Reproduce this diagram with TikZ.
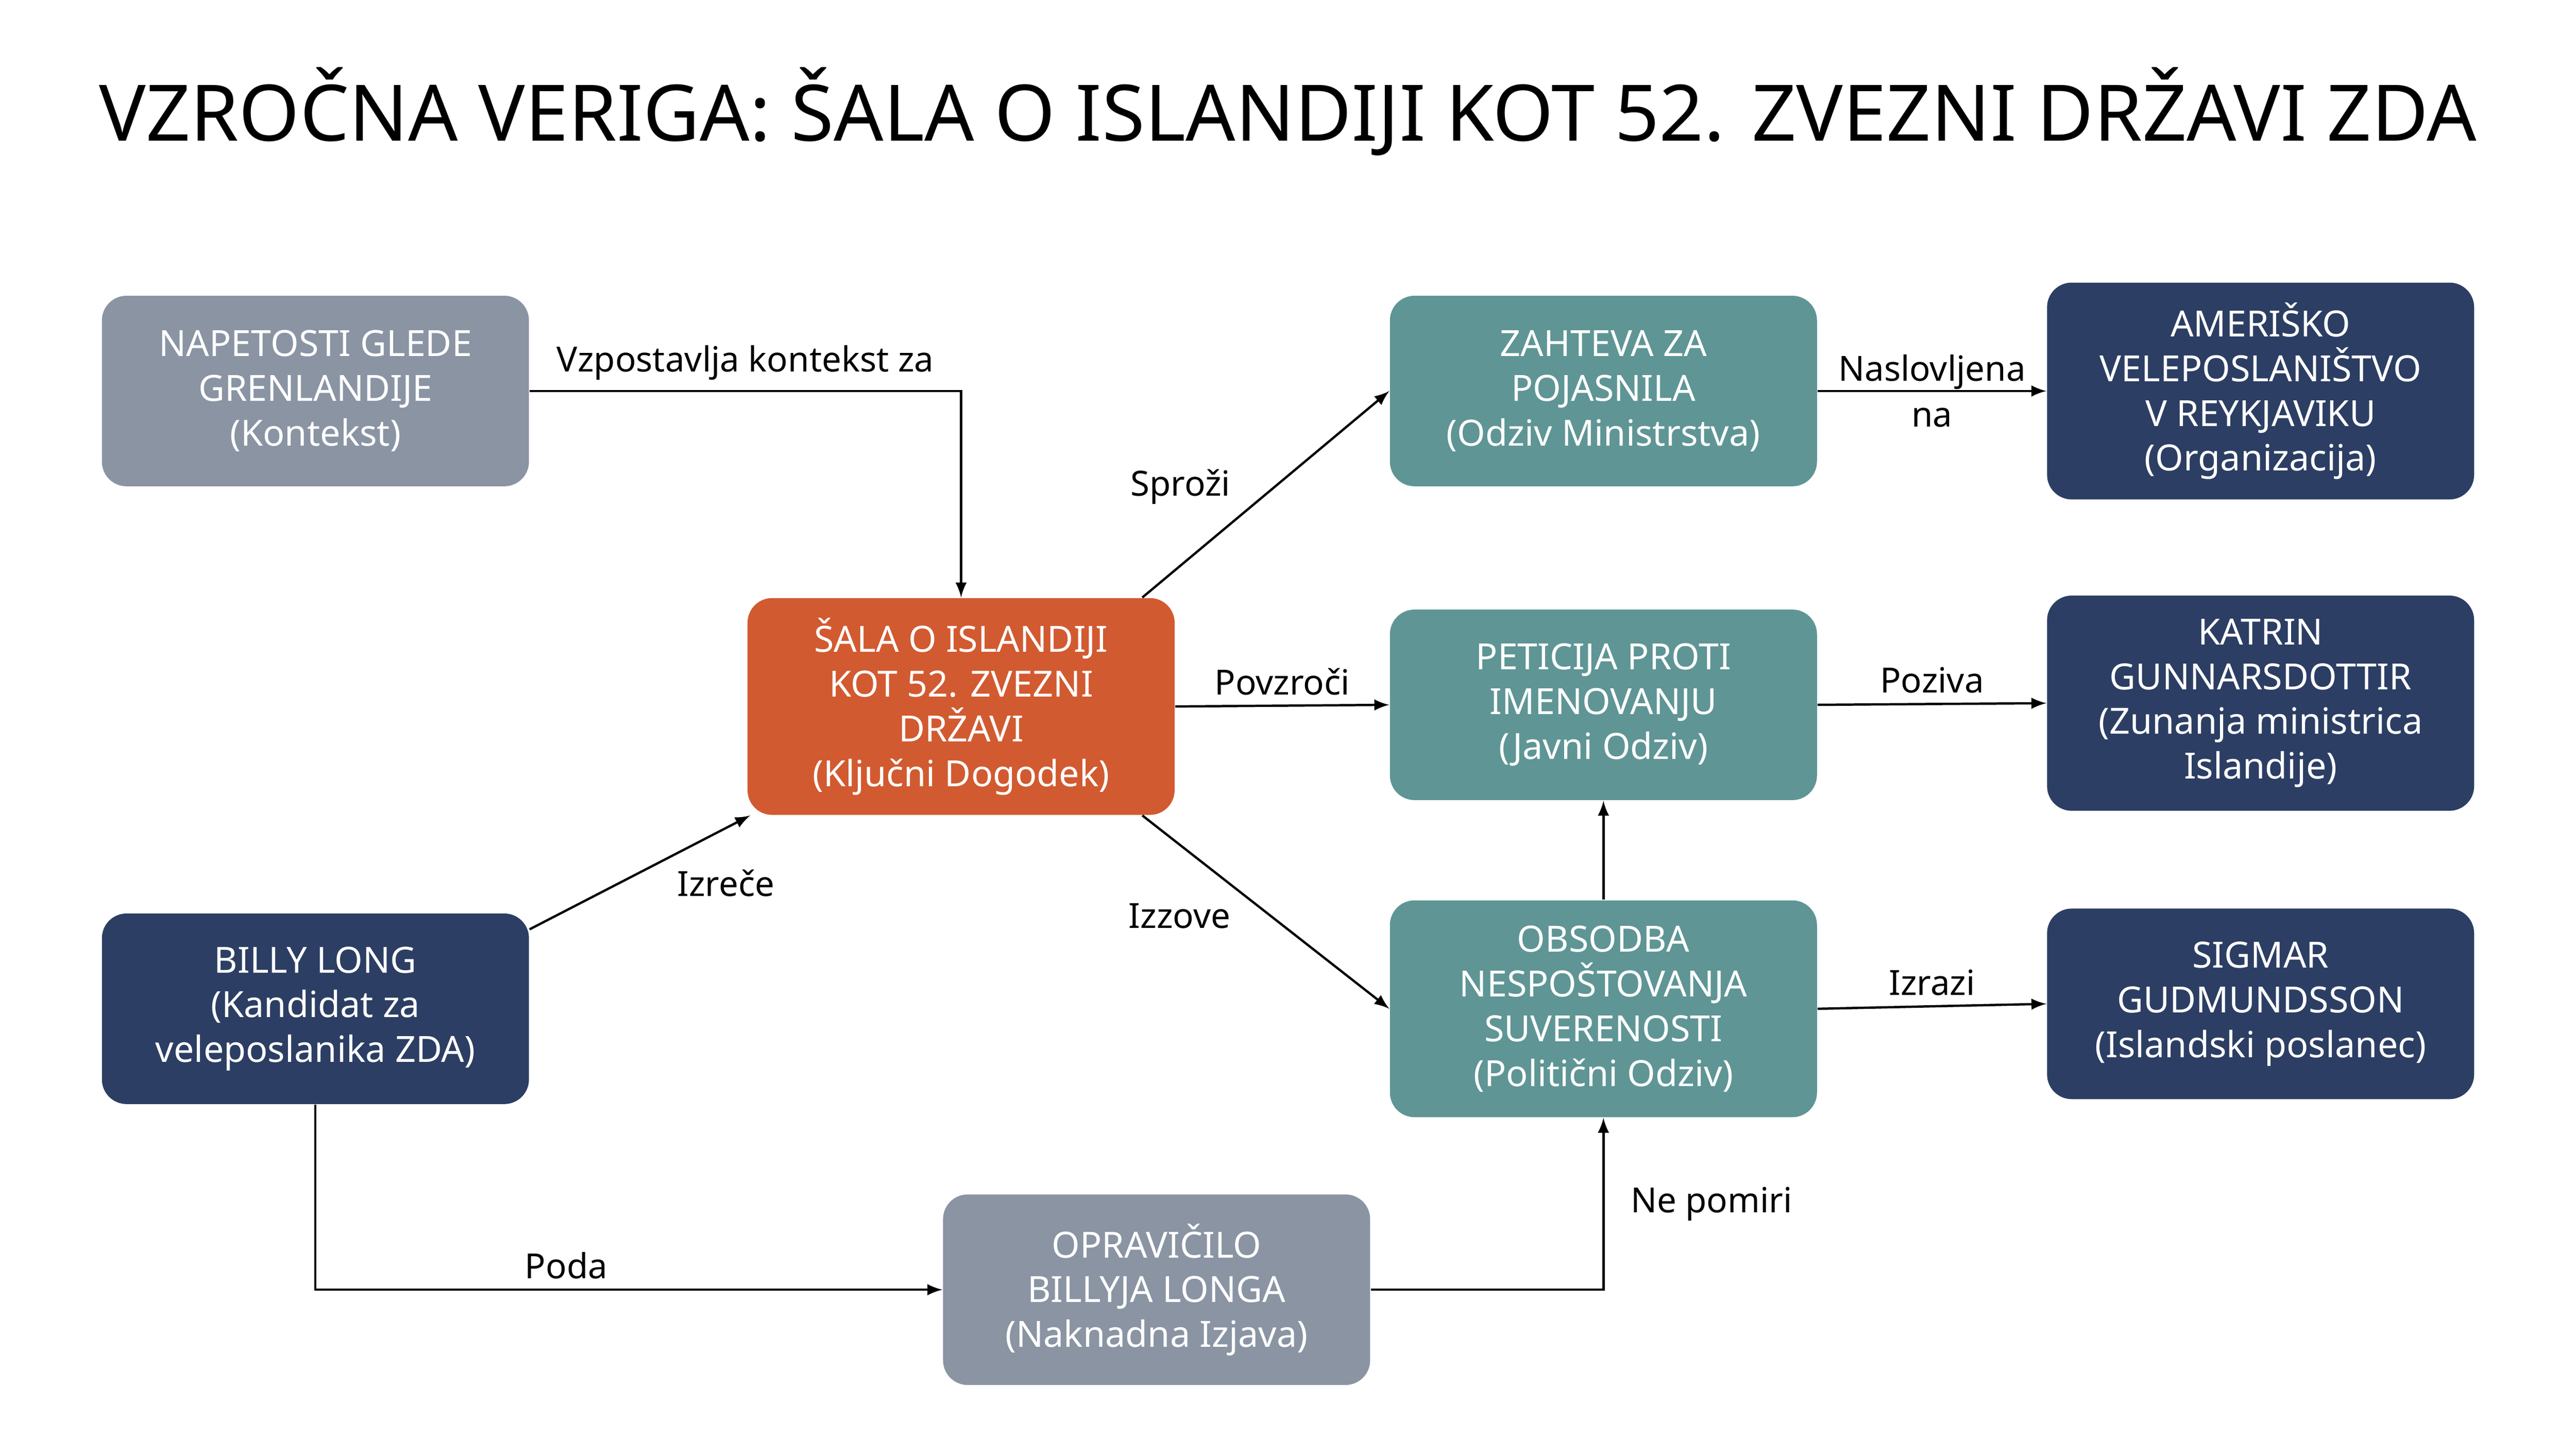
\documentclass[tikz,border=0pt]{standalone}
\usepackage{fontspec}
\setmainfont{Noto Sans}
\usetikzlibrary{positioning}
\definecolor{sivo}{HTML}{8A94A3}
\definecolor{oranzno}{HTML}{D25A30}
\definecolor{temno}{HTML}{2C3E63}
\definecolor{zeleno}{HTML}{5F9595}
\tikzset{
  skatla/.style={rounded corners=0.3cm, minimum width=5.2cm, minimum height=2.32cm,
    text=white, align=center, font=\fontsize{12.5}{15.5}\selectfont},
  puscica/.style={-latex, thick},
  oznaka/.style={font=\fontsize{12}{14}\selectfont, align=center}
}
\begin{document}
\begin{tikzpicture}[x=0.02cm, y=-0.02cm]
        \useasboundingbox (0,0) rectangle (1568,875);
        %naslov
        \node (naslov) at (784,68) {\fontsize{27}{32}\selectfont\bfseries VZROČNA VERIGA: ŠALA O ISLANDIJI KOT 52. ZVEZNI DRŽAVI ZDA};
        %skatle levo
        \node[skatla, fill=sivo] (napetosti) at (192,238) {\textbf{NAPETOSTI GLEDE}\\\textbf{GRENLANDIJE}\\(Kontekst)};
        \node[skatla, fill=temno] (billy) at (192,614) {\textbf{BILLY LONG}\\(Kandidat za\\veleposlanika ZDA)};
        \node[skatla, fill=oranzno, minimum height=2.64cm] (sala) at (585,430) {\textbf{ŠALA O ISLANDIJI}\\\textbf{KOT 52. ZVEZNI}\\\textbf{DRŽAVI}\\(Ključni Dogodek)};
        \node[skatla, fill=sivo] (opravicilo) at (704,785) {\textbf{OPRAVIČILO}\\\textbf{BILLYJA LONGA}\\(Naknadna Izjava)};
        %odzivi
        \node[skatla, fill=zeleno] (zahteva) at (976,238) {\textbf{ZAHTEVA ZA}\\\textbf{POJASNILA}\\(Odziv Ministrstva)};
        \node[skatla, fill=zeleno] (peticija) at (976,429) {\textbf{PETICIJA PROTI}\\\textbf{IMENOVANJU}\\(Javni Odziv)};
        \node[skatla, fill=zeleno, minimum height=2.64cm] (obsodba) at (976,614) {\textbf{OBSODBA}\\\textbf{NESPOŠTOVANJA}\\\textbf{SUVERENOSTI}\\(Politični Odziv)};
        %organizacije in osebe
        \node[skatla, fill=temno, minimum height=2.64cm] (ambasada) at (1376,238) {\textbf{AMERIŠKO}\\\textbf{VELEPOSLANIŠTVO}\\\textbf{V REYKJAVIKU}\\(Organizacija)};
        \node[skatla, fill=temno, minimum height=2.62cm] (katrin) at (1376,428) {\textbf{KATRIN}\\\textbf{GUNNARSDOTTIR}\\(Zunanja ministrica\\Islandije)};
        \node[skatla, fill=temno] (sigmar) at (1376,611) {\textbf{SIGMAR}\\\textbf{GUDMUNDSSON}\\(Islandski poslanec)};
        %puscice
        \draw[puscica] (napetosti.east) -| (sala.north) node[oznaka, pos=0.25, above] {Vzpostavlja kontekst za};
        \draw[puscica] ([xshift=-0.4cm]sala.north east) -- (zahteva.west) node[oznaka, pos=0.4, above left] {Sproži};
        \draw[puscica] (sala.east) -- (peticija.west) node[oznaka, midway, above] {Povzroči};
        \draw[puscica] ([xshift=-0.4cm]sala.south east) -- (obsodba.west) node[oznaka, pos=0.4, below left] {Izzove};
        \draw[puscica] ([yshift=-0.2cm]billy.north east) -- ([xshift=0.04cm]sala.south west) node[oznaka, pos=0.62, below right] {Izreče};
        \draw[puscica] (billy.south) |- (opravicilo.west) node[oznaka, pos=0.7, above] {Poda};
        \draw[puscica] (opravicilo.east) -| (obsodba.south) node[oznaka, pos=0.75, right=0.2cm] {Ne pomiri};
        \draw[puscica] (obsodba.north) -- (peticija.south);
        \draw[puscica] (zahteva.east) -- (ambasada.west) node[oznaka, midway] {Naslovljena\\[2pt]na};
        \draw[puscica] (peticija.east) -- (katrin.west) node[oznaka, midway, above] {Poziva};
        \draw[puscica] (obsodba.east) -- (sigmar.west) node[oznaka, midway, above] {Izrazi};
    \end{tikzpicture}
\end{document}
